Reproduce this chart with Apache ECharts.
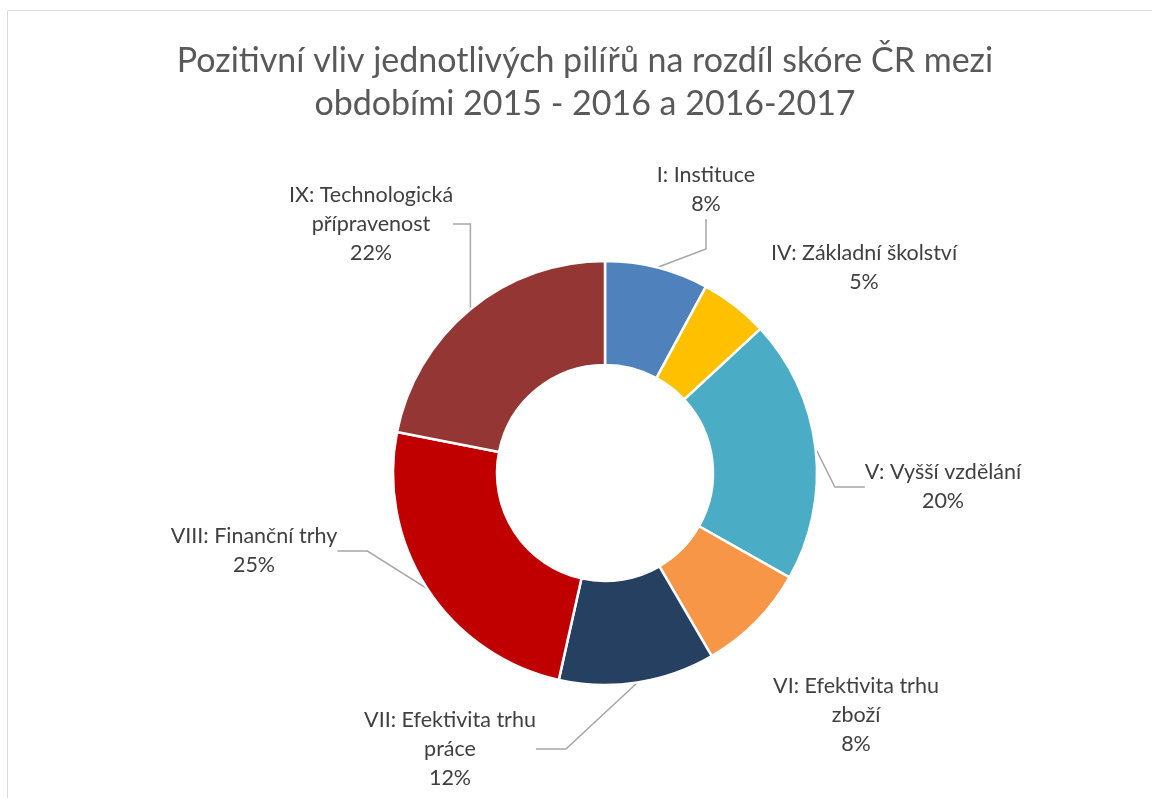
<!DOCTYPE html>
<html>
<head>
<meta charset="utf-8">
<script src="https://cdn.jsdelivr.net/npm/echarts@6/dist/echarts.min.js"></script>
<style>
  html, body { margin: 0; padding: 0; background: #fff; }
  #chart { width: 1152px; height: 798px; }
</style>
</head>
<body>
<div id="chart"></div>
<script>
// pilíře a jejich podíl
const pillars = [
  'I: Instituce',
  'IV: Základní školství',
  'V: Vyšší vzdělání',
  'VI: Efektivita trhu\nzboží',
  'VII: Efektivita trhu\npráce',
  'VIII: Finanční trhy',
  'IX: Technologická\npřípravenost'
]
const shares = [7.9, 5.2, 20.1, 8.4, 11.9, 24.6, 21.9]

const colors = ['#4F81BD', '#FFC000', '#4BACC6', '#F79646', '#264061', '#C00000', '#943634']
// pozice popisků (střed bloku textu)
const labelPos = [[706, 190], [864, 268], [943, 487], [856, 715], [450, 749], [254, 551], [371, 224]]
const showLine = [true, false, true, false, true, true, true]

const titleText = 'Pozitivní vliv jednotlivých pilířů na rozdíl skóre ČR mezi\nobdobími 2015 - 2016 a 2016-2017'

const chart = echarts.init(document.getElementById('chart'))

const option = {
  animation: false,
  graphic: [{
    type: 'rect',
    shape: { x: 7.5, y: 10.5, width: 1200, height: 900 },
    style: { fill: 'none', stroke: '#d9d9d9', lineWidth: 1 },
    silent: true
  }, {
    // nadpis
    type: 'text',
    x: 585,
    y: 40,
    style: {
      text: titleText,
      fontFamily: 'Lato',
      fontSize: 34,
      lineHeight: 43,
      fill: '#595959',
      align: 'center',
      verticalAlign: 'top'
    },
    silent: true
  }],
  series: [{
    type: 'pie',
    radius: [108, 212],
    center: [605, 473],
    startAngle: 90,
    clockwise: true,
    avoidLabelOverlap: false,
    itemStyle: { borderColor: '#fff', borderWidth: 2.5 },
    label: {
      show: true,
      position: 'outside',
      fontFamily: 'Lato',
      fontSize: 21.5,
      lineHeight: 29,
      color: '#404040',
      align: 'center',
      formatter: p => p.name + '\n' + Math.round(p.percent) + '%'
    },
    labelLine: {
      show: true,
      lineStyle: { color: '#a6a6a6', width: 1.5 }
    },
    labelLayout: p => ({
      x: labelPos[p.dataIndex][0],
      y: labelPos[p.dataIndex][1],
      align: 'center',
      verticalAlign: 'middle'
    }),
    data: pillars.map((name, i) => ({
      name: name,
      value: shares[i],
      itemStyle: { color: colors[i] },
      labelLine: { show: showLine[i] }
    }))
  }]
}

chart.setOption(option)
</script>
</body>
</html>
